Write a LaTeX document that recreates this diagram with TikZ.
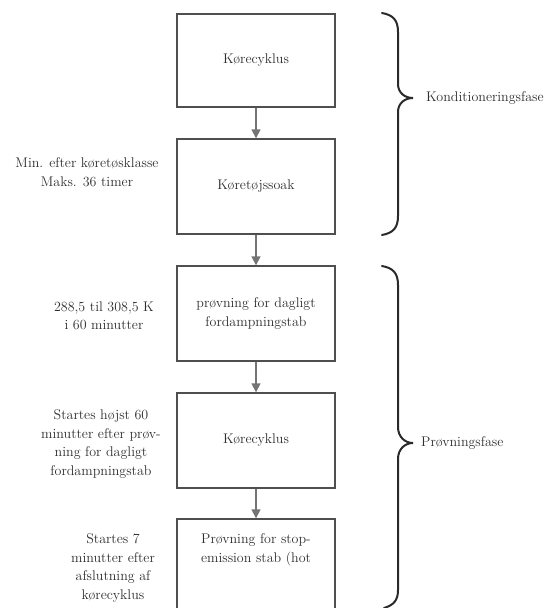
\documentclass[tikz,border=0pt]{standalone}
\usetikzlibrary{arrows.meta}
\definecolor{boxc}{HTML}{4F4F4F}
\definecolor{arrc}{HTML}{747474}
\definecolor{txt}{HTML}{2E2E2E}
\definecolor{brc}{HTML}{2A2A2A}
\begin{document}
\begin{tikzpicture}[x=1pt,y=-1pt,
  font=\fontsize{14}{18.5}\selectfont,
  box/.style={draw=boxc, line width=1.4pt, minimum width=158pt, inner sep=0pt, text=txt, align=center},
  flow/.style={draw=arrc, line width=1.6pt, -{Triangle[width=9pt,length=9pt]}},
  brace/.style={draw=brc, line width=2pt, line cap=round},
  lab/.style={text=txt, align=center, inner sep=0pt}]
\useasboundingbox (0,0) rectangle (554,608);
\clip (0,0) rectangle (554,608);
% boxes
\node[box, minimum height=93pt] (b1) at (256,60.5) {Kørecyklus};
\node[box, minimum height=95pt] (b2) at (256,186.5) {Køretøjssoak};
\node[box, minimum height=95pt] (b3) at (256,313.5) {prøvning for dagligt\\fordampningstab};
\node[box, minimum height=95pt] (b4) at (256,440.5) {Kørecyklus};
\node[box, minimum height=100pt] (b5) at (256,569) {};
\node[lab] (t5) at (256,550) {Prøvning for stop-\\emission stab (hot};
% arrows
\draw[flow] (b1) -- (b2);
\draw[flow] (b2) -- (b3);
\draw[flow] (b3) -- (b4);
\draw[flow] (b4) -- (b5);
% left labels
\node[lab] (l1) at (87,172) {Min. efter køretøsklasse\\Maks. 36 timer};
\node[lab] (l2) at (104,316) {288,5 til 308,5 K\\i 60 minutter};
\node[lab] (l3) at (101,444) {Startes højst 60\\minutter efter prøv-\\ning for dagligt\\fordampningstab};
\node[lab] (l4) at (113,568) {Startes 7\\minutter efter\\afslutning af\\kørecyklus};
% braces
\draw[brace] (382,13) .. controls (393,15) and (398,20) .. (398,32) -- (398,84)
  .. controls (398,93) and (405,98) .. (413,98)
  .. controls (405,98) and (398,103) .. (398,112) -- (398,216)
  .. controls (398,228) and (393,233) .. (382,235);
\draw[brace] (382,266) .. controls (393,268) and (398,273) .. (398,285) -- (398,427)
  .. controls (398,437) and (405,443) .. (413,443)
  .. controls (405,443) and (398,449) .. (398,459) -- (398,590)
  .. controls (398,600) and (394,605) .. (384,608);
\node[lab, anchor=west] (k1) at (426,98) {Konditioneringsfase};
\node[lab, anchor=west] (k2) at (421,443) {Prøvningsfase};
\end{tikzpicture}
\end{document}
